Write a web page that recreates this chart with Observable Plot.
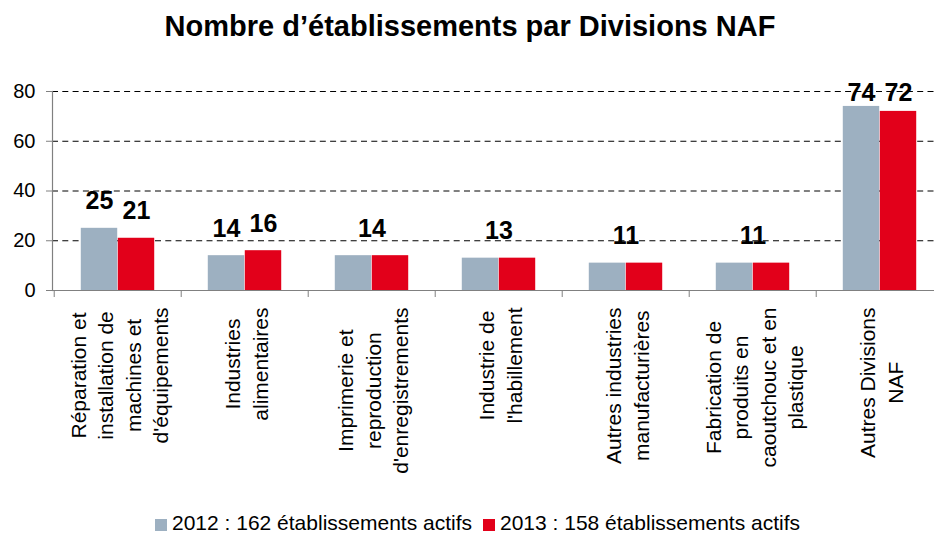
<!DOCTYPE html>
<html>
<head>
<meta charset="utf-8">
<script src="https://cdn.jsdelivr.net/npm/d3@7"></script>
<script src="https://cdn.jsdelivr.net/npm/@observablehq/plot@0.6"></script>
<style>
  html, body { margin: 0; padding: 0; background: white; }
  body { width: 934px; height: 533px; overflow: hidden; position: relative; font-family: "Liberation Sans", Arial, sans-serif; }
  #title { position: absolute; left: 0; top: 11.5px; width: 940px; text-align: center; font-weight: bold; font-size: 29px; line-height: 29px; color: #000; }
  #legend { position: absolute; left: 155px; top: 512px; width: 760px; font-size: 21px; line-height: 21px; color: #000; white-space: nowrap; }
  #legend .sw { width: 12px; height: 12px; display: inline-block; margin-right: 5px; vertical-align: -1px; }
  #legend .txt { display: inline-block; margin-right: 11px; }
  #chart { position: absolute; left: 0; top: 0; }
</style>
</head>
<body>
<div id="chart"></div>
<div id="title"></div>
<div id="legend"></div>
<script>
const titleText = "Nombre d’établissements par Divisions NAF";
const categories = [
  "Réparation et\ninstallation de\nmachines et\nd'équipements",
  "Industries\nalimentaires",
  "Imprimerie et\nreproduction\nd'enregistrements",
  "Industrie de\nl'habillement",
  "Autres industries\nmanufacturières",
  "Fabrication de\nproduits en\ncaoutchouc et en\nplastique",
  "Autres Divisions\nNAF"
];
const values2012 = [25, 14, 14, 13, 11, 11, 74];
const values2013 = [21, 16, 14, 13, 11, 11, 72];
const seriesLabels = ["2012 : 162 établissements actifs", "2013 : 158 établissements actifs"];
const yTicks = [0, 20, 40, 60, 80];

const colors = ["#9DB0C1", "#E2001A"];

const rows = categories.map((c, i) => ({cat: c, v2012: values2012[i], v2013: values2013[i]}));

const W = 934, H = 533;
const xStart = 52, xEnd = 945;
const step = (xEnd - xStart) / categories.length;
const barW = 37;

// measure label lines for top-anchored, center-aligned rotated labels
const ctx = document.createElement("canvas").getContext("2d");
const labelFont = 21;
ctx.font = `${labelFont}px "Liberation Sans"`;
function maxLine(s) { return d3.max(s.split("\n"), l => ctx.measureText(l).width); }

const labelMarks = rows.map(r => Plot.text([r], {
  x: "cat", text: "cat", frameAnchor: "bottom", rotate: -90,
  textAnchor: "middle", lineAnchor: "middle", lineHeight: 1.31,
  fontSize: labelFont, fill: "black", dy: 17 + maxLine(r.cat) / 2
}));

const clampY = v => Math.min(v, 68.7);
const unequal = rows.filter(r => r.v2012 !== r.v2013);
const equal = rows.filter(r => r.v2012 === r.v2013);

const plot = Plot.plot({
  width: W, height: H,
  marginLeft: 52, marginRight: 0, marginTop: 91, marginBottom: H - 290,
  style: {fontFamily: '"Liberation Sans", Arial, sans-serif', fontSize: "20px", color: "black", background: "white"},
  x: {domain: categories, range: [xStart, xEnd], padding: 0, label: null},
  y: {domain: [0, 80], range: [290, 91], label: null},
  marks: [
    Plot.gridY(yTicks.filter(t => t > 0), {stroke: "black", strokeOpacity: 1, strokeWidth: 1, strokeDasharray: "6,4.3"}),
    Plot.barY(rows, {x: "cat", y: "v2012", fill: colors[0], insetLeft: step / 2 - barW, insetRight: step / 2}),
    Plot.barY(rows, {x: "cat", y: "v2013", fill: colors[1], insetLeft: step / 2, insetRight: step / 2 - barW}),
    Plot.ruleY([0], {stroke: "#808080", strokeWidth: 1.2}),
    Plot.frame({anchor: "left", stroke: "#808080", strokeWidth: 1.2}),
    Plot.axisX({tickSize: 7, tickFormat: () => "", dx: -step / 2, stroke: "#808080", label: null}),
    Plot.axisY({ticks: yTicks, tickSize: 6, tickPadding: 11, fontSize: 20, stroke: "#808080", fill: "black", tickFormat: d => String(d), label: null}),
    Plot.text(unequal, {x: "cat", y: d => clampY(d.v2012), text: d => String(d.v2012), dx: -barW / 2, dy: -19, lineAnchor: "bottom", fontWeight: "bold", fontSize: 25, fill: "black"}),
    Plot.text(unequal, {x: "cat", y: d => clampY(d.v2013), text: d => String(d.v2013), dx: barW / 2, dy: -19, lineAnchor: "bottom", fontWeight: "bold", fontSize: 25, fill: "black"}),
    Plot.text(equal, {x: "cat", y: d => clampY(d.v2012), text: d => String(d.v2012), dy: -19, lineAnchor: "bottom", fontWeight: "bold", fontSize: 25, fill: "black"}),
    ...labelMarks
  ]
});
document.getElementById("chart").appendChild(plot);
document.getElementById("title").textContent = titleText;

const legend = d3.select("#legend");
seriesLabels.forEach((lab, i) => {
  legend.append("span").attr("class", "sw").style("background", colors[i]);
  legend.append("span").attr("class", "txt").text(lab);
});
</script>
</body>
</html>
